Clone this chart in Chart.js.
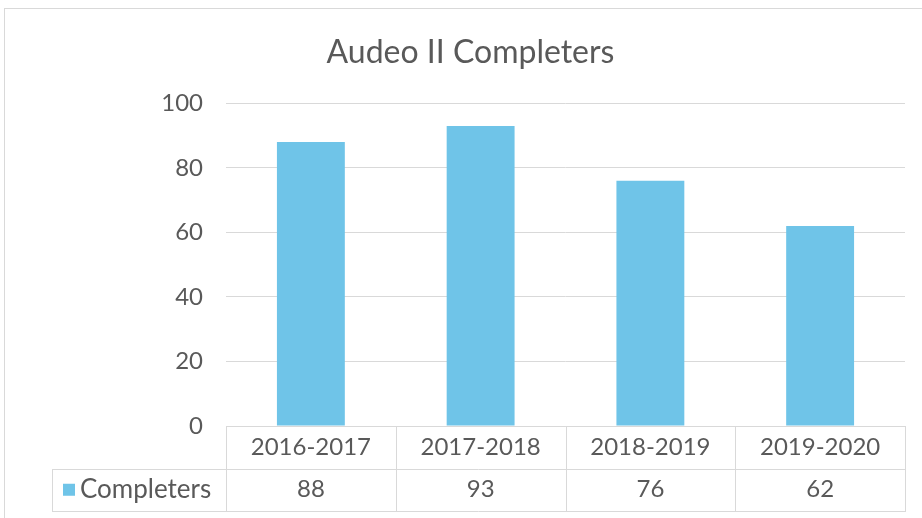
<!DOCTYPE html>
<html lang="en">
<head>
    <meta charset="UTF-8">
    <title>Audeo II Completers</title>
    <script src="https://cdn.jsdelivr.net/npm/chart.js"></script>
    <style>
        body { margin: 0; background: #fff; }
        #chart { display: block; }
    </style>
</head>
<body>
    <canvas id="chart" width="922" height="518"></canvas>

    <script>
// dados do gráfico
const chartTitle = 'Audeo II Completers';
const years = ['2016-2017', '2017-2018', '2018-2019', '2019-2020'];
const seriesName = 'Completers';
const completers = [88, 93, 76, 62];
const yMax = 100;
const yStep = 20;

const textColor = '#595959';
const lineColor = '#d9d9d9';
const barColor = '#6fc4e8';
const fontFamily = 'Lato, "Open Sans", sans-serif';

// moldura externa do gráfico
const framePlugin = {
    id: 'frame',
    beforeDraw(chart) {
        const ctx = chart.ctx;
        ctx.save();
        ctx.fillStyle = '#fff';
        ctx.fillRect(0, 0, chart.width, chart.height);
        ctx.strokeStyle = lineColor;
        ctx.lineWidth = 1;
        ctx.strokeRect(4.5, 8.5, chart.width + 20, chart.height + 20);
        ctx.restore();
    },
    // título centrado na largura toda do gráfico, como no Excel
    afterLayout(chart) {
        if (chart.titleBlock) {
            chart.titleBlock.left += 18;
            chart.titleBlock.right += 18;
        }
    }
};

// tabela de dados abaixo do gráfico (como no Excel)
const dataTablePlugin = {
    id: 'dataTable',
    afterDraw(chart) {
        const ctx = chart.ctx;
        const area = chart.chartArea;
        const n = years.length;
        const colW = (area.right - area.left) / n;
        const rowH = 42.5;
        const top = area.bottom;
        const mid = top + rowH;
        const bottom = mid + rowH;
        const tableLeft = 52;

        ctx.save();
        ctx.strokeStyle = lineColor;
        ctx.lineWidth = 1;
        ctx.beginPath();
        // linhas horizontais
        ctx.moveTo(area.left, Math.round(top) + 0.5);
        ctx.lineTo(area.right, Math.round(top) + 0.5);
        ctx.moveTo(tableLeft, Math.round(mid) + 0.5);
        ctx.lineTo(area.right, Math.round(mid) + 0.5);
        ctx.moveTo(tableLeft, Math.round(bottom) + 0.5);
        ctx.lineTo(area.right, Math.round(bottom) + 0.5);
        // linhas verticais
        ctx.moveTo(tableLeft + 0.5, Math.round(mid));
        ctx.lineTo(tableLeft + 0.5, Math.round(bottom) + 1);
        for (let i = 0; i <= n; i++) {
            const x = Math.round(area.left + i * colW) + 0.5;
            ctx.moveTo(x, Math.round(top));
            ctx.lineTo(x, Math.round(bottom) + 1);
        }
        ctx.stroke();

        ctx.fillStyle = textColor;
        ctx.font = '24px ' + fontFamily;
        ctx.textAlign = 'center';
        ctx.textBaseline = 'middle';
        const xScale = chart.scales.x;
        years.forEach((label, i) => {
            const cx = xScale.getPixelForValue(i);
            ctx.fillText(label, cx, top + rowH / 2);
            ctx.fillText(String(completers[i]), cx, mid + rowH / 2);
        });

        // legenda da série
        ctx.fillStyle = barColor;
        ctx.fillRect(63, mid + rowH / 2 - 6, 12, 12);
        ctx.fillStyle = textColor;
        ctx.textAlign = 'left';
        ctx.font = '26px ' + fontFamily;
        ctx.fillText(seriesName, 80, mid + rowH / 2);
        ctx.restore();
    }
};

new Chart(document.getElementById('chart'), {
    type: 'bar',
    data: {
        labels: years,
        datasets: [{
            label: seriesName,
            data: completers,
            backgroundColor: barColor,
            borderWidth: 0,
            barPercentage: 0.4,
            categoryPercentage: 1.0
        }]
    },
    options: {
        responsive: false,
        animation: false,
        layout: {
            padding: { left: 0, right: 17, top: 0, bottom: 92 }
        },
        plugins: {
            legend: { display: false },
            tooltip: { enabled: false },
            title: {
                display: true,
                text: chartTitle,
                color: textColor,
                font: { family: fontFamily, size: 32, weight: 'normal' },
                padding: { top: 33, bottom: 32 }
            }
        },
        scales: {
            x: {
                display: false
            },
            y: {
                min: 0,
                max: yMax,
                afterFit(scale) { scale.width = 226; },
                ticks: {
                    stepSize: yStep,
                    padding: 23,
                    color: textColor,
                    font: { family: fontFamily, size: 24 }
                },
                grid: { color: lineColor, drawTicks: false },
                border: { display: false }
            }
        }
    },
    plugins: [framePlugin, dataTablePlugin]
});
    </script>
</body>
</html>
